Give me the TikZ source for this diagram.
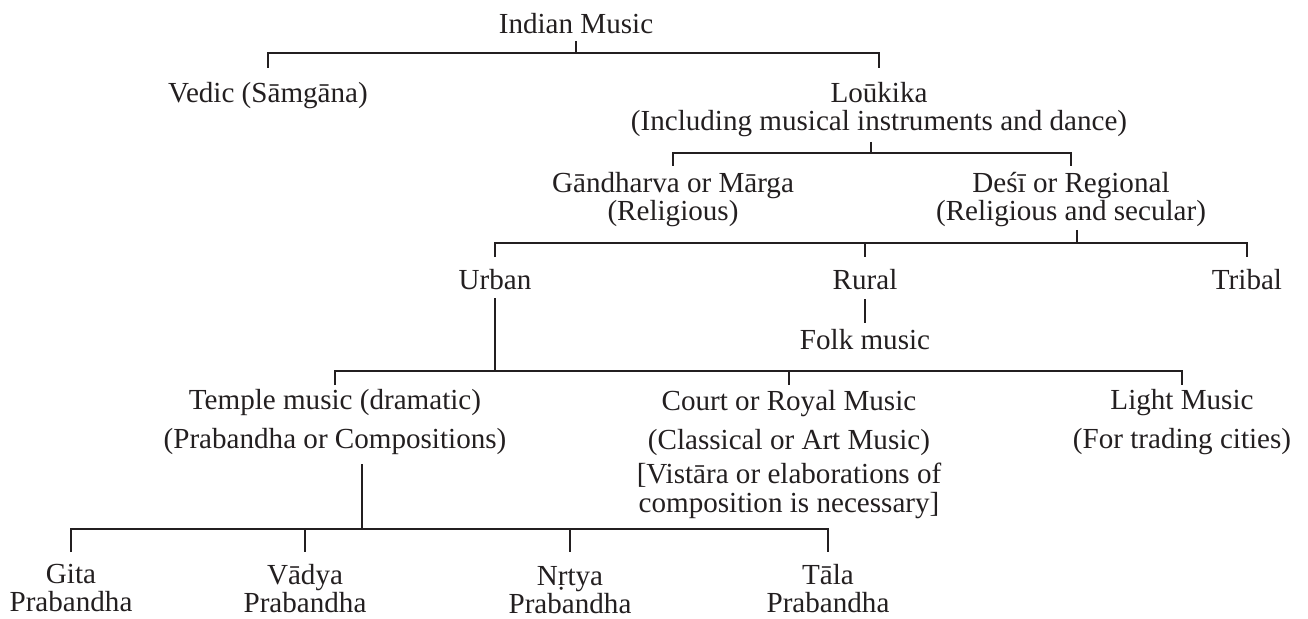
\documentclass[tikz,border=0pt]{standalone}
\usepackage{fontspec}
\setmainfont{Liberation Serif}
\definecolor{ink}{RGB}{35,31,32}
\tikzstyle{every node}=[anchor=north, inner sep=0pt, align=center, text=ink, font=\fontsize{29.1bp}{28bp}\selectfont]
\tikzstyle{wide}=[font=\fontsize{29.1bp}{39.5bp}\selectfont]

\begin{document}
\begin{tikzpicture}[x=1bp, y=-1bp, line width=1.2bp, ink]
\useasboundingbox (0,0) rectangle (1308,619);
% Bar levels
    \coordinate (r1) at (0,53);
    \coordinate (r2) at (0,153);
    \coordinate (r3) at (0,243);
    \coordinate (r4) at (0,371);
    \coordinate (r5) at (0,529);
% Branches
    \node (indian) at (576,12.4) {Indian Music};
    \node (vedic) at (268,81.4) {Vedic (Sāmgāna)};
    \node (loukika) at (879,81.4) {Loūkika\\(Including musical instruments and dance)};
    \node (gandharva) at (673,171.4) {Gāndharva or Mārga\\(Religious)};
    \node (desi) at (1071,171.4) {Deśī or Regional\\(Religious and secular)};
    \node (urban) at (495,268.4) {Urban};
    \node (rural) at (865,268.4) {Rural};
    \node (tribal) at (1247,268.4) {Tribal};
    \node (folk) at (865,328.4) {Folk music};
    \node[wide] (temple) at (335,388.4) {Temple music (dramatic)\\(Prabandha or Compositions)};
    \node[wide] (court) at (789,389.4) {Court or Royal Music\\(Classical or Art Music)\\[-6bp]{[}Vistāra or elaborations of\\[-10.5bp]composition is necessary]};
    \node[wide] (light) at (1182,388.4) {Light Music\\(For trading cities)};
% Prabandha kinds
    \node (gita) at (71,563.5) {Gita\\Prabandha};
    \node (vadya) at (305,563.5) {Vādya\\Prabandha};
    \node (nrtya) at (570,565.5) {Nṛtya\\Prabandha};
    \node (tala) at (828,563.5) {Tāla\\Prabandha};
% Connectors
    \draw[shorten <=7bp] (indian.south) -- (indian.south |- r1);
    \draw[shorten <=13.4bp, shorten >=13.4bp] (vedic.north) -- (vedic.north |- r1) -- (loukika.north |- r1) -- (loukika.north);
    \draw[shorten <=4.7bp] ([xshift=-8bp]loukika.south) -- ([xshift=-8bp]loukika.south |- r2);
    \draw[shorten <=5.4bp, shorten >=5.4bp] (gandharva.north) -- (gandharva.north |- r2) -- (desi.north |- r2) -- (desi.north);
    \draw[shorten <=2.7bp] ([xshift=6bp]desi.south) -- ([xshift=6bp]desi.south |- r3);
    \draw[shorten <=11.4bp, shorten >=11.4bp] (urban.north) -- (urban.north |- r3) -- (tribal.north |- r3) -- (tribal.north);
    \draw[shorten >=11.4bp] (rural.north |- r3) -- (rural.north);
    \draw[shorten <=9bp, shorten >=5.4bp] (rural.south) -- (folk.north);
    \draw[shorten <=8bp] (urban.south) -- (urban.south |- r4);
    \draw[shorten <=3.4bp, shorten >=3.4bp] (temple.north) -- (temple.north |- r4) -- (light.north |- r4) -- (light.north);
    \draw[shorten >=4.4bp] (court.north |- r4) -- (court.north);
    \draw[shorten <=8.8bp] ([xshift=27bp]temple.south) -- ([xshift=27bp]temple.south |- r5);
    \draw[shorten <=11.5bp, shorten >=11.5bp] (gita.north) -- (gita.north |- r5) -- (tala.north |- r5) -- (tala.north);
    \draw[shorten >=11.5bp] (vadya.north |- r5) -- (vadya.north);
    \draw[shorten >=13.5bp] (nrtya.north |- r5) -- (nrtya.north);
\end{tikzpicture}
\end{document}
